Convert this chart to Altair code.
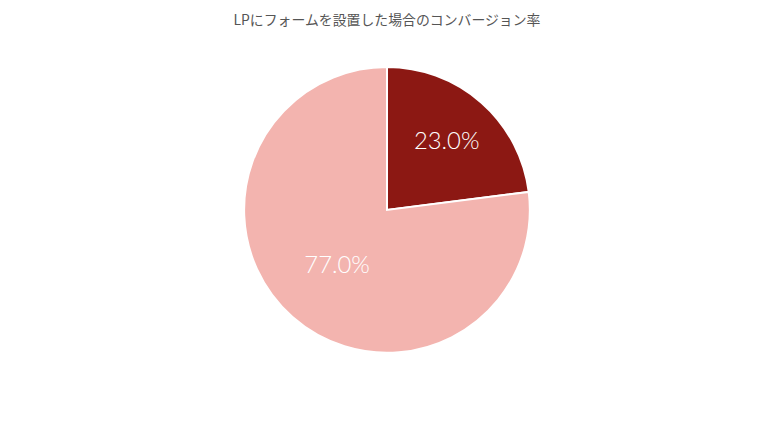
import altair as alt
import pandas as pd

categories = ["コンバージョン", "非コンバージョン"]
values = [23.0, 77.0]
labels = ["23.0%", "77.0%"]
colors = ["#8C1813", "#F3B4AF"]
order = [0, 1]
label_r = [91, 76]

df = pd.DataFrame({"cat": categories, "v": values, "lab": labels, "o": order, "lr": label_r})

pie = alt.Chart(df).mark_arc(outerRadius=144, stroke="white", strokeWidth=2).encode(
    theta=alt.Theta("v:Q", stack=True),
    order=alt.Order("o:Q"),
    color=alt.Color("cat:N", scale=alt.Scale(domain=categories, range=colors), legend=None),
)

text = (
    alt.Chart(df)
    .transform_window(cum="sum(v)", sort=[alt.SortField("o")])
    .transform_calculate(mid="datum.cum - datum.v / 2")
    .mark_text(fontSize=24, color="white", font="Lato", fontWeight=300)
    .encode(
        theta=alt.Theta("mid:Q", stack=False, scale=alt.Scale(domain=[0, 100], range=[0, 6.283185307179586])),
        radius=alt.Radius("lr:Q", scale=None),
        text="lab:N",
    )
)

chart = (pie + text).resolve_scale(theta="independent").properties(
    width=752,
    height=346,
    padding={"left": 6, "top": 5, "right": 0, "bottom": 0},
    title=alt.TitleParams(
        "LPにフォームを設置した場合のコンバージョン率",
        fontSize=14,
        font="Noto Sans CJK JP",
        fontWeight="normal",
        color="#555555",
        anchor="middle",
        offset=10,
    ),
).configure_view(stroke=None)

chart.save("out.html", embed_options={"renderer": "svg", "actions": False})
